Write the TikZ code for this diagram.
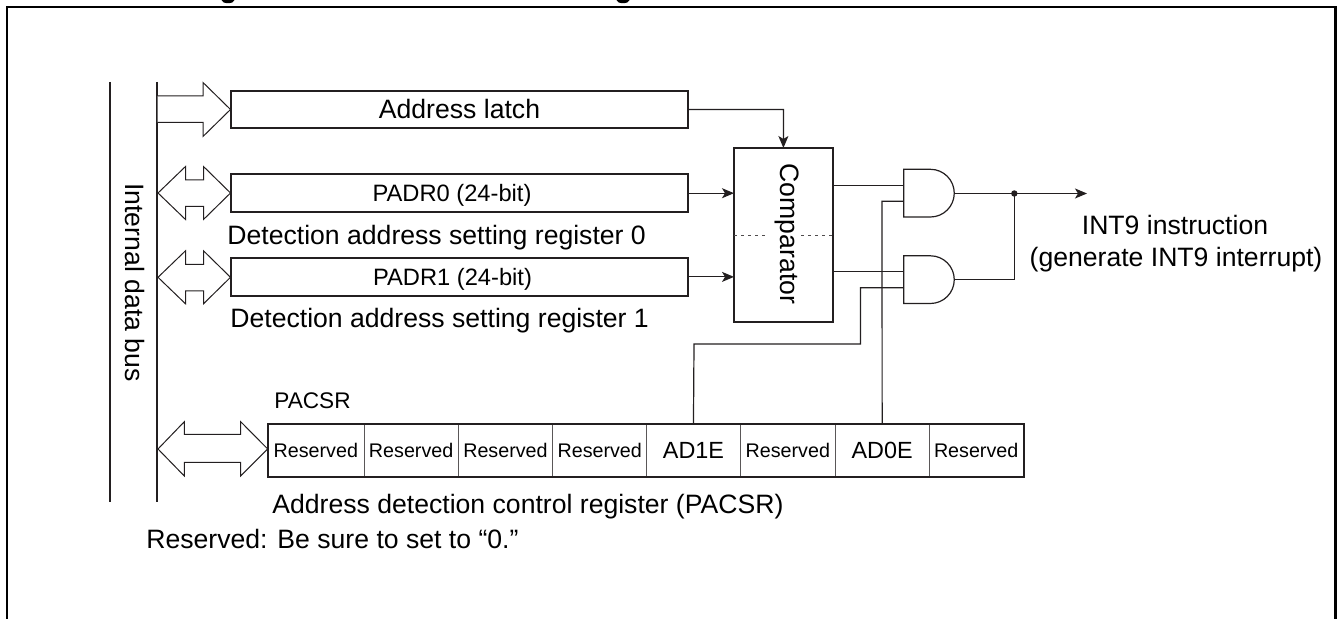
\documentclass[tikz,border=0pt]{standalone}
\usepackage{fontspec}
\setmainfont{Liberation Sans}
\usetikzlibrary{arrows.meta}
\definecolor{ink}{RGB}{35,31,32}
\tikzset{
  x=0.5pt,y=-0.5pt,
  frame/.style={draw=black,line width=1.2pt},
  reg/.style={draw=ink,line width=1.1pt,anchor=north west,inner sep=0pt,outer sep=0pt,minimum width=228.5pt,minimum height=18.8pt},
  busline/.style={draw=ink,line width=1pt},
  bus/.style={draw=ink,line width=0.5pt,fill=white,line join=miter},
  wire/.style={draw=ink,line width=0.6pt},
  sig/.style={wire,-{Stealth[length=6pt,width=5pt,inset=1.5pt]}},
  cellbox/.style={anchor=north west,inner sep=0pt,outer sep=0pt,minimum width=47.15pt,minimum height=26.3pt},
  sep/.style={draw=ink!75,line width=0.45pt},
  txt/.style={font=\fontsize{13.3}{15}\selectfont,text=black,inner sep=0pt},
  mid/.style={font=\fontsize{11.85}{13}\selectfont,text=black,inner sep=0pt},
  small/.style={font=\fontsize{9.85}{11}\selectfont,text=black},
  gate/.style={draw=ink,line width=0.6pt,fill=white}
}
\newcommand{\rsv}{\raisebox{-2.1pt}{Reserved}}
\newcommand{\adb}[1]{\raisebox{-0.9pt}{\fontsize{11.7}{13}\selectfont #1}}
\begin{document}
\begin{tikzpicture}
\useasboundingbox (0,0) rectangle (1337,619);
% title descenders cut by the crop
\fill[black] (228,0) ellipse [x radius=6.5,y radius=3.2];
\fill[black] (623,0) ellipse [x radius=6.5,y radius=3.2];
% frame
\draw[frame] (7,619) -- (7,7) -- (1335.5,7) -- (1335.5,619);
% bus lines
\coordinate (bl1) at (110,82); \coordinate (bl2) at (110,501.5);
\coordinate (bd1) at (157.3,82); \coordinate (bd2) at (157.3,501.5);
\draw[busline] (bl1) -- (bl2);
\draw[busline] (bd1) -- (bd2);
\node[txt,rotate=-90] (idb) at (135.5,282.5) {Internal data bus};
% bus arrows
\draw[bus] (157.5,96) -- (203,96) -- (203,82.5) -- (230.5,109.5) -- (203,136.5) -- (203,122.5) -- (157.5,122.5);
\foreach \d in {0,84.3}{
  \begin{scope}[yshift=-\d*0.5pt]
  \draw[bus] (158,193) -- (185.5,166.5) -- (185.5,180) -- (203.5,180) -- (203.5,166.5) -- (230.5,193) -- (203.5,219.5) -- (203.5,206.5) -- (185.5,206.5) -- (185.5,219.5) -- cycle;
  \end{scope}
}
\draw[bus] (158,449) -- (184.3,421.7) -- (184.3,434.3) -- (240.7,434.3) -- (240.7,421.7) -- (267.7,449) -- (240.7,476) -- (240.7,462.3) -- (184.3,462.3) -- (184.3,476) -- cycle;
% registers
\node[reg] (addr) at (231,90.8) {};
\node[txt] at (459.5,108.5) {Address latch};
\node[reg] (padr0) at (231,174.4) {};
\node[mid] at (452,195.5) {PADR0 (24-bit)};
\node[reg] (padr1) at (231,258.1) {};
\node[mid] at (452.5,279.5) {PADR1 (24-bit)};
\node[txt,anchor=west] (lab0) at (227,238) {Detection address setting register 0};
\node[txt,anchor=west] (lab1) at (230,321) {Detection address setting register 1};
% comparator
\node[draw=ink,line width=1.1pt,anchor=north west,inner sep=0pt,outer sep=0pt,minimum width=49.4pt,minimum height=87pt] (cmp) at (734,148.4) {};
\draw[draw=ink!80,line width=0.5pt,dash pattern=on 1.6pt off 1.9pt] (cmp.west |- 0,235.7) -- (767,235.7);
\draw[draw=ink!80,line width=0.5pt,dash pattern=on 1.6pt off 1.9pt] (801,235.7) -- (cmp.east |- 0,235.7);
\node[txt,rotate=-90,fill=none] (cmpt) at (787,234) {Comparator};
% connectors to comparator
\draw[sig] (addr.east) -- (783.4,109.6) -- (783.4,148);
\coordinate (c0) at (cmp.west |- padr0.east);
\coordinate (c1) at (cmp.west |- padr1.east);
\draw[sig] (padr0.east) -- (c0);
\draw[sig] (padr1.east) -- (c1);
% PACSR
\node[font=\fontsize{11.3}{13}\selectfont,anchor=west,inner sep=0pt] (pl) at (274,401) {PACSR};
\begin{scope}[small]
\node[cellbox] (c1r) at (268.7,424.4) {\rsv};
\node[cellbox] (c2r) at (364,424.4) {\rsv};
\node[cellbox] (c3r) at (458.3,424.4) {\rsv};
\node[cellbox] (c4r) at (552.6,424.4) {\rsv};
\node[cellbox] (ad1) at (646.3,424.4) {\adb{AD1E}};
\node[cellbox] (c6r) at (740.7,424.4) {\rsv};
\node[cellbox] (ad0) at (835,424.4) {\adb{AD0E}};
\node[cellbox] (c8r) at (929,424.4) {\rsv};
\end{scope}
\foreach \s in {364.3,458.3,552.7,646.3,740.7,835,929}{
  \draw[sep] (\s,424.4) -- (\s,477);
}
\draw[draw=ink,line width=1.1pt] (267.7,424.4) rectangle (1024,477);
\node[txt,anchor=west] (pacsrl) at (272,507) {Address detection control register (PACSR)};
\node[txt,anchor=west] (resl) at (146,539) {Reserved: Be sure to set to “0.”};
% gates
\coordinate (g1a) at (903.7,185.3);
\coordinate (g1b) at (903.7,201.3);
\coordinate (g2a) at (903.7,271.7);
\coordinate (g2b) at (903.7,287.7);
\coordinate (out1) at (954.3,193.5);
\coordinate (out2) at (954.3,279.6);
\coordinate (dot) at (1014.3,193.5);
\coordinate (end) at (1087,193.5);
\draw[wire] (cmp.east |- g1a) -- (g1a);
\draw[wire] (cmp.east |- g2a) -- (g2a);
\draw[wire] (ad1.north) -- (694,344) -- (860.4,344) -- (860.4,287.7) -- (g2b);
\draw[wire] (ad0.north) -- (882,201.3) -- (g1b);
\draw[gate] (903.7,169.3) -- (930.4,169.3) arc[start angle=90,end angle=-90,radius=11.925pt] -- (903.7,217) -- cycle;
\draw[gate] (903.7,255.8) -- (930.4,255.8) arc[start angle=90,end angle=-90,radius=11.925pt] -- (903.7,303.5) -- cycle;
\draw[sig] (out1) -- (end);
\draw[wire] (out2) -- (dot |- out2) -- (dot);
\fill[ink] (dot) circle (1.6pt);
\node[txt] (int1) at (1175,225) {INT9 instruction};
\node[txt] (int2) at (1176,260) {(generate INT9 interrupt)};
\end{tikzpicture}
\end{document}
